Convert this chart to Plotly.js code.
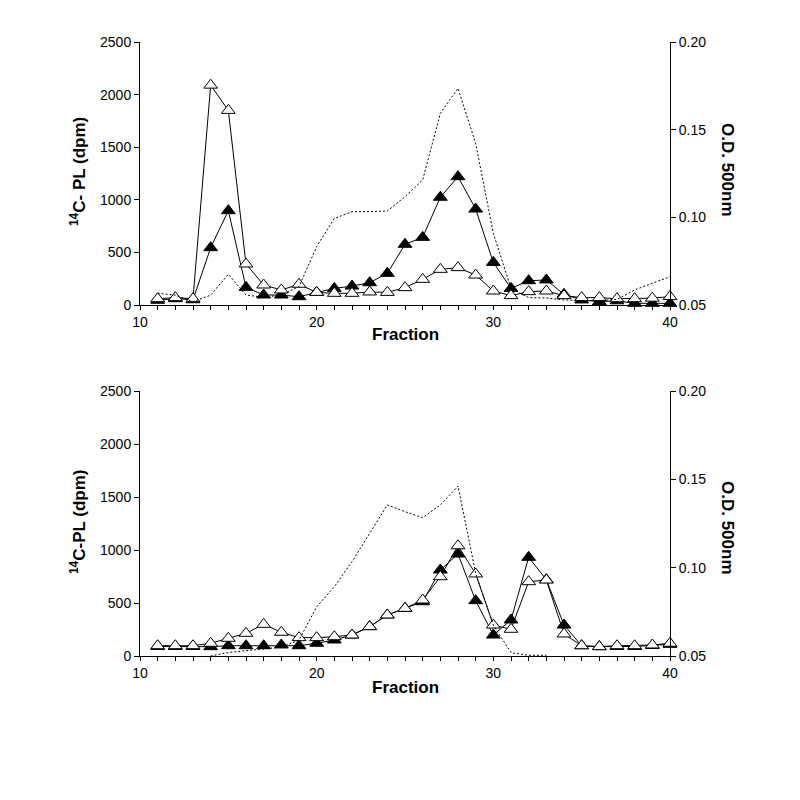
<!DOCTYPE html>
<html>
<head>
<meta charset="utf-8">
<script src="https://cdn.plot.ly/plotly-3.0.1.min.js"></script>
<style>
  html, body { margin: 0; padding: 0; background: #fff; }
  #chart { width: 800px; height: 800px; }
</style>
</head>
<body>
<div id="chart"></div>
<script>
// Fractions collected from the column
const fractions = [11, 12, 13, 14, 15, 16, 17, 18, 19, 20,
                   21, 22, 23, 24, 25, 26, 27, 28, 29, 30,
                   31, 32, 33, 34, 35, 36, 37, 38, 39, 40];

// Top panel - 14C-PL (dpm)
const topOpen   = [60, 70, 60, 2090, 1850, 390, 190, 143, 197, 120,
                   111, 111, 124, 120, 165, 244, 339, 355, 285, 133,
                   89, 127, 133, 89, 70, 70, 60, 60, 65, 80];
const topFilled = [45, 60, 50, 545, 897, 168, 95, 95, 79, 120,
                   158, 180, 212, 301, 577, 643, 1024, 1220, 912, 405,
                   158, 231, 238, 101, 48, 32, 40, 16, 16, 16];
// Top panel - O.D. 500nm
const topOD     = [0.0567, 0.0556, 0.0519, 0.0556, 0.0675, 0.0557, 0.0544, 0.0557, 0.0605, 0.0833,
                   0.0994, 0.1032, 0.1033, 0.1036, 0.1118, 0.1213, 0.1593, 0.1736, 0.1422, 0.0909,
                   0.0595, 0.0542, 0.0540, 0.0529, 0.0525, 0.0525, 0.0532, 0.0586, 0.0624, 0.0661];

// Bottom panel - 14C-PL (dpm)
const botOpen   = [97, 97, 97, 120, 167, 214, 299, 224, 173, 173,
                   182, 198, 277, 387, 450, 528, 748, 1040, 774, 292,
                   252, 701, 717, 208, 97, 88, 97, 97, 104, 120];
const botFilled = [90, 90, 90, 88, 97, 97, 97, 104, 97, 120,
                   151, 198, 277, 387, 450, 512, 811, 962, 522, 198,
                   340, 931, 720, 292, 97, 88, 90, 90, 100, 110];
// Bottom panel - O.D. 500nm (no reading outside 14..33)
const botOD     = [null, null, null, 0.050, 0.052, 0.053, 0.054, 0.055, 0.059, 0.0779,
                   0.0892, 0.1034, 0.1194, 0.1355, 0.1317, 0.1283, 0.1355, 0.1462, 0.0968, 0.0675,
                   0.0519, 0.0504, 0.0504, null, null, null, null, null, null, null];

const FONT = 'Liberation Sans, Arial, sans-serif';

function odTrace(y, xa, ya) {
    return {
        x: fractions, y: y, xaxis: xa, yaxis: ya,
        type: 'scatter', mode: 'lines',
        line: { color: '#000', width: 1, dash: '2px,2px' },
        connectgaps: false,
        hoverinfo: 'x+y'
    };
}

function dpmTrace(y, xa, ya, filled) {
    return {
        x: fractions, y: y, xaxis: xa, yaxis: ya,
        type: 'scatter', mode: 'lines+markers',
        cliponaxis: false,
        line: { color: '#000', width: 1 },
        marker: {
            symbol: 'triangle-up',
            size: 12,
            color: filled ? '#000' : '#fff',
            line: { color: '#000', width: 1 }
        }
    };
}

const traces = [
    odTrace(topOD, 'x', 'y2'),
    dpmTrace(topFilled, 'x', 'y', true),
    dpmTrace(topOpen, 'x', 'y', false),
    odTrace(botOD, 'x2', 'y4'),
    dpmTrace(botFilled, 'x2', 'y3', true),
    dpmTrace(botOpen, 'x2', 'y3', false)
];

const xDomain = [140 / 800, 670 / 800];
const topDomain = [(800 - 305) / 800, (800 - 42) / 800];
const botDomain = [(800 - 656) / 800, (800 - 391) / 800];

const baseAxis = {
    showgrid: false,
    zeroline: false,
    showline: true,
    linecolor: '#000',
    linewidth: 1,
    ticks: 'outside',
    ticklen: 5,
    tickcolor: '#000',
    tickfont: { family: FONT, size: 14, color: '#000' }
};

function xAxis(anchor) {
    return Object.assign({}, baseAxis, {
        domain: xDomain, anchor: anchor,
        range: [10, 40], tickvals: [10, 20, 30, 40],
        ticklen: 4,
        minor: { dtick: 1, tick0: 10, ticks: 'outside', ticklen: 4, tickcolor: '#000', showgrid: false }
    });
}

function dpmAxis(domain, anchor) {
    return Object.assign({}, baseAxis, {
        domain: domain, anchor: anchor,
        range: [0, 2500], tickvals: [0, 500, 1000, 1500, 2000, 2500]
    });
}

function odAxis(overlay, anchor) {
    return Object.assign({}, baseAxis, {
        overlaying: overlay, anchor: anchor, side: 'right',
        range: [0.05, 0.20], tickvals: [0.05, 0.10, 0.15, 0.20],
        tickformat: '.2f'
    });
}

function label(text, x, y, angle) {
    return {
        text: text, xref: 'paper', yref: 'paper',
        x: x / 800, y: 1 - y / 800,
        xanchor: 'center', yanchor: 'middle',
        textangle: angle, showarrow: false,
        font: { family: FONT, size: 17, color: '#000', weight: 'bold' }
    };
}

const layout = {
    width: 800,
    height: 800,
    margin: { l: 0, r: 0, t: 0, b: 0 },
    paper_bgcolor: '#fff',
    plot_bgcolor: '#fff',
    showlegend: false,
    font: { family: FONT, color: '#000' },
    xaxis: xAxis('y'),
    yaxis: dpmAxis(topDomain, 'x'),
    yaxis2: odAxis('y', 'x'),
    xaxis2: xAxis('y3'),
    yaxis3: dpmAxis(botDomain, 'x2'),
    yaxis4: odAxis('y3', 'x2'),
    annotations: [
        label('<b>Fraction</b>', 405, 335, 0),
        label('<b><sup>14</sup>C- PL (dpm)</b>', 78, 172, -90),
        label('<b>O.D. 500nm</b>', 728, 170, 90),
        label('<b>Fraction</b>', 405, 687, 0),
        label('<b><sup>14</sup>C-PL (dpm)</b>', 78, 522, -90),
        label('<b>O.D. 500nm</b>', 728, 528, 90)
    ]
};

Plotly.newPlot('chart', traces, layout, { displayModeBar: false, staticPlot: true });
</script>
</body>
</html>
